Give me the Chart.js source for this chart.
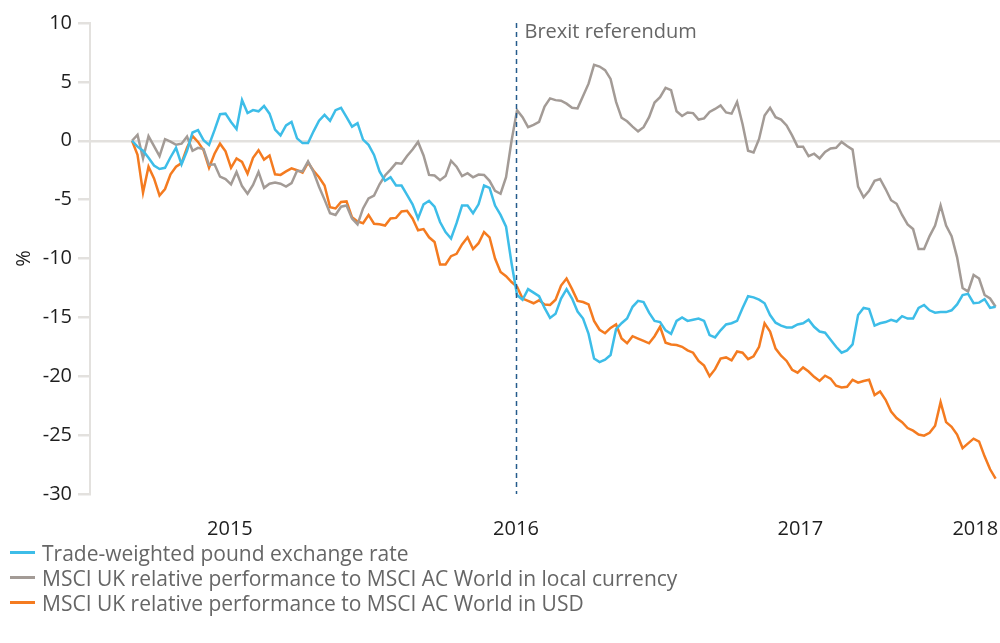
<!DOCTYPE html>
<html>
<head>
<meta charset="utf-8">
<title>Pound and MSCI UK relative performance</title>
<script src="https://cdn.jsdelivr.net/npm/chart.js@4.4.1/dist/chart.umd.min.js"></script>
<style>
    body { margin: 0; background: #fff; }
    #wrap { position: relative; width: 1000px; height: 545px; }
    #legend { position: absolute; top: 540px; left: 0; font-family: 'Open Sans', sans-serif; font-size: 21px; color: #666; }
    .item { display: flex; align-items: center; height: 25px; padding-left: 10px; white-space: nowrap; }
    .swatch { width: 25px; height: 2.5px; margin-right: 7px; }
</style>
</head>
<body>
<div id="wrap"><canvas id="chart"></canvas></div>
<div id="legend"></div>
<script>
// Weekly observations, % change since start
const trade = [0, -0.5, -0.85, -1.45, -2.1, -2.4, -2.3, -1.4, -0.6, -2.0,
    -0.85, 0.7, 0.9, 0.05, -0.35, 0.9, 2.25, 2.3, 1.6, 1.0,
    3.45, 2.35, 2.6, 2.5, 2.95, 2.3, 0.95, 0.45, 1.3, 1.6,
    0.2, -0.2, -0.2, 0.8, 1.7, 2.2, 1.7, 2.6, 2.8, 2.0,
    1.2, 1.5, 0.1, -0.35, -1.2, -2.6, -3.4, -3.1, -3.8, -3.8,
    -4.6, -5.4, -6.6, -5.4, -5.1, -5.6, -6.9, -7.75, -8.3, -7.0,
    -5.5, -5.5, -6.15, -5.4, -3.8, -4.0, -5.5, -6.3, -7.3, -10.4,
    -13.1, -13.5, -12.6, -12.9, -13.2, -14.2, -15.05, -14.7, -13.4, -12.6,
    -13.4, -14.5, -15.1, -16.4, -18.5, -18.8, -18.6, -18.2, -16.0, -15.5,
    -15.1, -14.1, -13.6, -13.7, -14.6, -15.3, -15.4, -16.1, -16.4, -15.3,
    -15.0, -15.3, -15.2, -15.1, -15.3, -16.5, -16.7, -16.1, -15.6, -15.5,
    -15.3, -14.2, -13.2, -13.3, -13.5, -13.8, -14.8, -15.45, -15.7, -15.85,
    -15.85, -15.6, -15.5, -15.2, -15.8, -16.2, -16.3, -16.9, -17.5, -18.0,
    -17.8, -17.3, -14.8, -14.2, -14.3, -15.7, -15.5, -15.4, -15.2, -15.35,
    -14.9, -15.1, -15.1, -14.2, -13.95, -14.4, -14.6, -14.55, -14.55, -14.4,
    -13.9, -13.1, -13.0, -13.8, -13.75, -13.45, -14.2, -14.1];

const localCcy = [0, 0.5, -1.5, 0.4, -0.45, -1.3, 0.14, -0.07, -0.34, -0.25,
    0.35, -0.85, -0.6, -0.7, -2.05, -2.0, -3.05, -3.25, -3.7, -2.65,
    -3.85, -4.5, -3.75, -2.65, -4.0, -3.65, -3.55, -3.65, -3.9, -3.6,
    -2.55, -2.6, -1.75, -2.65, -3.9, -5.0, -6.15, -6.3, -5.6, -5.5,
    -6.6, -7.1, -5.75, -4.9, -4.65, -3.7, -2.95, -2.45, -1.9, -1.95,
    -1.3, -0.75, -0.1, -1.25, -2.9, -2.95, -3.35, -3.0, -1.7, -2.2,
    -3.0, -2.75, -3.1, -2.87, -2.9, -3.4, -4.25, -4.5, -3.1, 0.0,
    2.6, 2.0, 1.15, 1.35, 1.6, 2.9, 3.6, 3.45, 3.4, 3.15,
    2.8, 2.75, 3.8, 4.85, 6.45, 6.3, 6.0, 5.25, 3.3, 1.95,
    1.65, 1.2, 0.8, 1.15, 2.0, 3.25, 3.7, 4.5, 4.3, 2.5,
    2.1, 2.4, 2.35, 1.8, 1.9, 2.45, 2.7, 3.0, 2.4, 2.3,
    3.3, 1.4, -0.85, -1.0, 0.15, 2.15, 2.8, 2.0, 1.8, 1.3,
    0.45, -0.5, -0.5, -1.3, -1.1, -1.5, -0.95, -0.65, -0.6, -0.1,
    -0.45, -0.75, -3.9, -4.8, -4.25, -3.4, -3.25, -4.1, -5.05, -5.35,
    -6.3, -7.1, -7.5, -9.2, -9.2, -8.1, -7.2, -5.5, -7.2, -8.1,
    -9.9, -12.5, -12.8, -11.4, -11.7, -13.1, -13.4, -14.1];

const usd = [0, -1.2, -4.4, -2.2, -3.2, -4.65, -4.1, -2.85, -2.2, -1.9,
    -0.6, 0.4, -0.1, -0.8, -2.3, -1.1, -0.25, -0.9, -2.3, -1.5,
    -1.8, -2.8, -1.45, -0.8, -1.6, -1.25, -2.85, -2.9, -2.6, -2.35,
    -2.5, -2.7, -1.85, -2.55, -3.1, -3.8, -5.65, -5.75, -5.2, -5.15,
    -6.5, -6.85, -7.0, -6.3, -7.05, -7.1, -7.2, -6.6, -6.55, -6.0,
    -5.95, -6.6, -7.6, -7.5, -8.2, -8.6, -10.5, -10.5, -9.8, -9.6,
    -8.8, -8.2, -9.2, -8.7, -7.75, -8.2, -10.0, -11.15, -11.5, -12.0,
    -12.4, -13.4, -13.6, -13.8, -13.55, -13.9, -13.95, -13.5, -12.3, -11.7,
    -12.6, -13.6, -13.7, -13.9, -15.3, -16.05, -16.35, -15.9, -15.6, -16.8,
    -17.2, -16.6, -16.8, -17.0, -17.2, -16.6, -15.8, -17.15, -17.3, -17.35,
    -17.5, -17.8, -18.0, -18.7, -19.1, -20.0, -19.4, -18.5, -18.4, -18.65,
    -17.9, -18.0, -18.55, -18.3, -17.5, -15.5, -16.2, -17.65, -18.25, -18.7,
    -19.45, -19.7, -19.25, -19.6, -20.05, -20.4, -19.95, -20.2, -20.8, -20.95,
    -20.9, -20.3, -20.55, -20.4, -20.3, -21.6, -21.3, -22.0, -23.0, -23.55,
    -23.9, -24.4, -24.62, -24.95, -25.05, -24.8, -24.2, -22.2, -23.9, -24.3,
    -24.95, -26.1, -25.7, -25.3, -25.55, -26.8, -27.9, -28.7];

// x axis labels (week positions)
const yearLabels = ['2015', '2016', '2017', '2018'];
const yearWeeks = [17.8, 69.8, 121.5, 153.3];
const brexitWeek = 69.8;
const brexitLabel = 'Brexit referendum';

const seriesNames = [
    'Trade-weighted pound exchange rate',
    'MSCI UK relative performance to MSCI AC World in local currency',
    'MSCI UK relative performance to MSCI AC World in USD'
];

const colors = {
    blue: '#3dbde8',
    grey: '#a39b96',
    orange: '#f47b20',
    marker: '#245b8c',
    axis: '#e3e1de',
    text: '#1e1e1e',
    soft: '#666666'
};

const weeks = trade.map(function(_, i) { return i; });

const brexitLine = {
    id: 'brexitLine',
    afterDatasetsDraw: function(chart) {
        const c = chart.ctx;
        const area = chart.chartArea;
        const px = Math.round(chart.scales.x.getPixelForValue(brexitWeek)) + 0.5;
        c.save();
        c.strokeStyle = colors.marker;
        c.lineWidth = 1.5;
        c.setLineDash([5, 4]);
        c.beginPath();
        c.moveTo(px, area.top);
        c.lineTo(px, area.bottom);
        c.stroke();
        c.setLineDash([]);
        c.fillStyle = colors.soft;
        c.font = '20px "Open Sans", sans-serif';
        c.textBaseline = 'middle';
        c.fillText(brexitLabel, px + 8, area.top + 9);
        c.restore();
    }
};

const lineSet = function(label, data, color) {
    return {
        label: label,
        data: data,
        borderColor: color,
        backgroundColor: color,
        borderWidth: 2.5,
        pointRadius: 0,
        tension: 0,
        fill: false
    };
};

new Chart(document.getElementById('chart'), {
    type: 'line',
    data: {
        labels: weeks,
        datasets: [
            lineSet(seriesNames[0], trade, colors.blue),
            lineSet(seriesNames[1], localCcy, colors.grey),
            lineSet(seriesNames[2], usd, colors.orange)
        ]
    },
    options: {
        animation: false,
        responsive: true,
        maintainAspectRatio: false,
        layout: { padding: { top: 23, right: 0, bottom: 0, left: 0 } },
        plugins: {
            legend: { display: false },
            tooltip: { enabled: false }
        },
        scales: {
            x: {
                type: 'linear',
                min: -7.64,
                max: 157.8,
                grid: { display: false, drawTicks: false },
                border: { display: false },
                afterBuildTicks: function(scale) {
                    scale.ticks = yearWeeks.map(function(v) { return { value: v }; });
                },
                afterFit: function(scale) {
                    // keep the plot running to the right edge
                    scale.height = 51;
                    scale.paddingLeft = 0;
                    scale.paddingRight = 0;
                },
                ticks: {
                    autoSkip: false,
                    maxRotation: 0,
                    padding: 23,
                    color: colors.text,
                    font: { family: 'Open Sans', size: 20 },
                    callback: function(value, index) { return yearLabels[index]; }
                }
            },
            y: {
                min: -30,
                max: 10,
                afterFit: function(scale) {
                    scale.width = 90;
                    scale.paddingTop = 0;
                    scale.paddingBottom = 0;
                },
                grid: {
                    color: function(ctx) { return ctx.tick && ctx.tick.value === 0 ? colors.axis : 'rgba(0,0,0,0)'; },
                    tickColor: colors.axis,
                    tickLength: 12,
                    lineWidth: 2.5
                },
                border: { color: colors.axis, width: 2 },
                ticks: {
                    stepSize: 5,
                    padding: 6,
                    color: colors.text,
                    font: { family: 'Open Sans', size: 20 }
                },
                title: {
                    display: true,
                    text: '%',
                    color: colors.text,
                    padding: { top: 12, bottom: 0 },
                    font: { family: 'Open Sans', size: 20 }
                }
            }
        }
    },
    plugins: [brexitLine]
});

// Legend below the chart
const legend = document.getElementById('legend');
[colors.blue, colors.grey, colors.orange].forEach(function(color, i) {
    const item = document.createElement('div');
    item.className = 'item';
    item.innerHTML = '<span class="swatch" style="background:' + color + '"></span>' + seriesNames[i];
    legend.appendChild(item);
});
</script>
</body>
</html>
